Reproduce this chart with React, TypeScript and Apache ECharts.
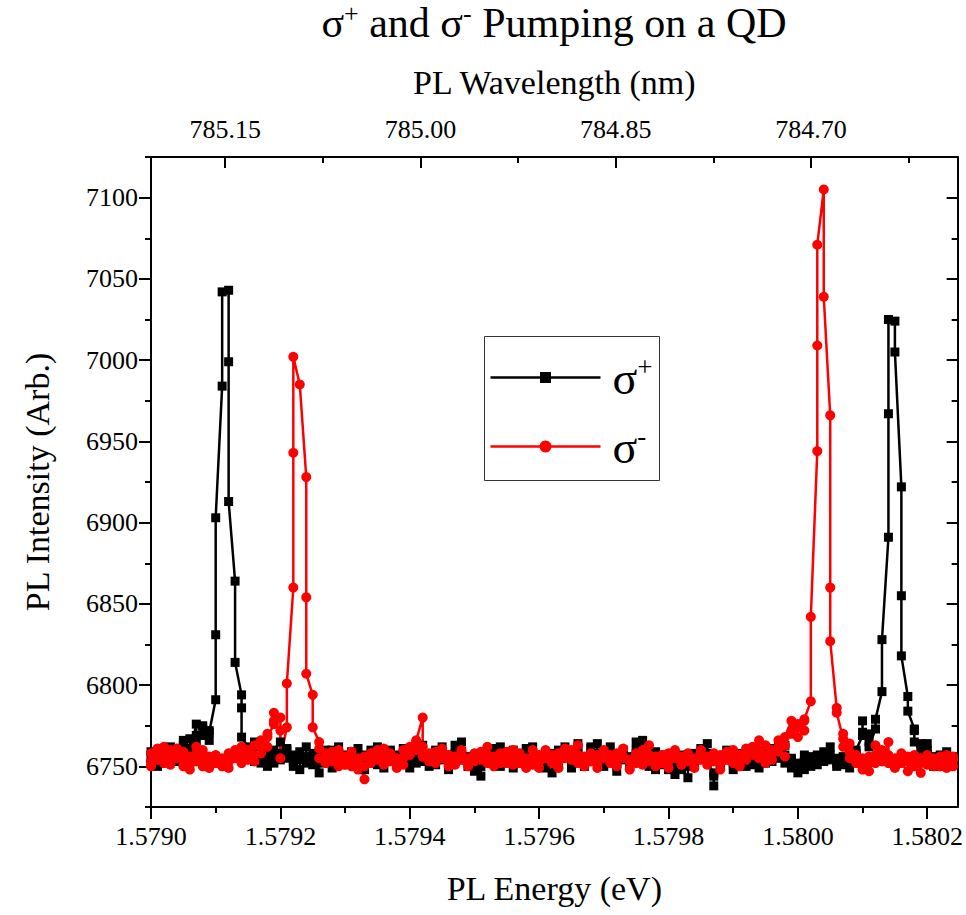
import React, { useEffect, useRef } from "react";
import * as echarts from "echarts";

// Energies are recorded on a 0.00001 eV grid; each column lists the intensities read at that energy.
const energyStart = 1.579;
const energyStep = 0.00001;

const sigmaPlusColumns: number[][] = [
  [6757, 6752, 6759], [6755, 6750, 6754], [6761, 6756, 6752], [6758, 6754, 6762], [6755, 6760, 6753],
  [6763, 6758, 6766], [6767, 6761, 6758], [6776, 6769, 6764], [6775, 6769, 6773], [6772, 6766, 6771],
  [6791, 6831, 6903], [6984, 7042], [7043, 6999, 6913], [6864, 6814], [6794, 6786, 6768],
  [6762, 6756, 6760], [6765, 6758, 6753], [6756, 6761, 6752], [6759, 6754, 6750], [6757, 6752, 6760],
  [6765, 6758, 6754], [6760, 6755, 6761], [6753, 6757, 6750], [6748, 6754, 6759], [6762, 6756, 6752],
  [6758, 6751, 6755], [6746, 6752, 6758], [6755, 6760, 6753], [6760, 6754, 6749], [6753, 6758, 6762],
  [6756, 6751, 6757], [6754, 6759, 6752], [6750, 6756, 6761], [6757, 6753, 6748], [6755, 6760, 6756],
  [6762, 6757, 6751], [6754, 6749, 6756], [6759, 6754, 6760], [6752, 6757, 6753], [6756, 6761, 6755],
  [6749, 6754, 6758], [6757, 6752, 6759], [6763, 6756, 6753], [6755, 6750, 6757], [6760, 6755, 6751],
  [6754, 6759, 6762], [6757, 6752, 6748], [6753, 6758, 6763], [6765, 6759, 6754], [6756, 6750, 6755],
  [6752, 6747, 6753], [6744, 6750, 6756], [6758, 6753, 6760], [6755, 6761, 6757], [6762, 6756, 6750],
  [6754, 6759, 6753], [6749, 6755, 6760], [6757, 6752, 6758], [6761, 6756, 6751], [6753, 6758, 6762],
  [6756, 6750, 6755], [6752, 6757, 6749], [6746, 6753, 6758], [6760, 6755, 6752], [6757, 6762, 6756],
  [6754, 6749, 6755], [6759, 6764, 6758], [6755, 6750, 6756], [6761, 6756, 6762], [6764, 6758, 6752],
  [6750, 6756, 6753], [6757, 6762, 6755], [6753, 6747, 6752], [6758, 6754, 6760], [6755, 6750, 6756],
  [6760, 6765, 6758], [6766, 6759, 6753], [6752, 6757, 6750], [6748, 6754, 6759], [6756, 6751, 6757],
  [6753, 6748, 6754], [6750, 6745, 6752], [6757, 6752, 6748], [6743, 6750, 6755], [6752, 6758, 6754],
  [6759, 6755, 6761], [6764, 6758, 6752], [6746, 6738, 6744], [6750, 6756, 6752], [6755, 6760, 6754],
  [6752, 6748, 6755], [6758, 6753, 6757], [6754, 6750, 6756], [6760, 6755, 6751], [6753, 6749, 6755],
  [6757, 6752, 6758], [6761, 6756, 6753], [6755, 6760, 6764], [6763, 6757, 6752], [6754, 6749, 6755],
  [6750, 6746, 6752], [6748, 6753, 6757], [6752, 6756, 6750], [6755, 6751, 6757], [6759, 6753, 6756],
  [6762, 6757, 6754], [6750, 6755, 6752], [6756, 6751, 6754], [6753, 6749, 6755], [6758, 6754, 6760],
  [6769, 6778, 6771], [6765, 6770, 6762], [6773, 6779], [6796, 6828], [6891, 6967, 7025],
  [7024, 7005], [6922, 6855, 6818], [6793, 6784], [6773, 6772, 6765], [6762, 6757, 6764],
  [6760, 6764, 6758], [6755, 6750, 6756], [6752, 6757, 6753], [6759, 6754, 6757], [6753, 6756, 6751],
];

const sigmaMinusColumns: number[][] = [
  [6753, 6758, 6750], [6756, 6761, 6754], [6752, 6757, 6762], [6760, 6755, 6751], [6757, 6761, 6755],
  [6750, 6754, 6759], [6756, 6751, 6748], [6753, 6758, 6762], [6760, 6755, 6750], [6754, 6749, 6756],
  [6752, 6757, 6753], [6755, 6750, 6754], [6758, 6753, 6749], [6755, 6760, 6756], [6752, 6757, 6762],
  [6758, 6754, 6760], [6763, 6757, 6753], [6762, 6758, 6766], [6770, 6762, 6768], [6776, 6783, 6778],
  [6780, 6772, 6755], [6774, 6801], [6860, 6943, 7002], [6985], [6928, 6854, 6807],
  [6794, 6774], [6765, 6761, 6755], [6758, 6752, 6757], [6754, 6759, 6753], [6750, 6755, 6760],
  [6756, 6751, 6754], [6759, 6754, 6750], [6753, 6748, 6755], [6742, 6750, 6756], [6757, 6752, 6758],
  [6755, 6760, 6754], [6751, 6756, 6761], [6758, 6753, 6757], [6754, 6749, 6755], [6760, 6755, 6751],
  [6757, 6762, 6758], [6765, 6760, 6766], [6780, 6762, 6756], [6753, 6758, 6754], [6757, 6752, 6759],
  [6755, 6761, 6756], [6752, 6757, 6750], [6756, 6751, 6755], [6759, 6754, 6760], [6755, 6750, 6753],
  [6758, 6753, 6757], [6754, 6759, 6755], [6762, 6757, 6752], [6755, 6750, 6756], [6753, 6758, 6752],
  [6757, 6752, 6759], [6760, 6755, 6751], [6756, 6752, 6758], [6754, 6749, 6755], [6751, 6756, 6760],
  [6757, 6753, 6749], [6755, 6760, 6756], [6752, 6757, 6753], [6758, 6753, 6749], [6756, 6761, 6755],
  [6759, 6754, 6760], [6763, 6757, 6752], [6755, 6750, 6756], [6753, 6758, 6754], [6757, 6752, 6749],
  [6755, 6760, 6756], [6752, 6757, 6753], [6758, 6754, 6750], [6756, 6761, 6755], [6753, 6748, 6754],
  [6757, 6752, 6758], [6760, 6755, 6751], [6763, 6757, 6753], [6755, 6750, 6756], [6752, 6757, 6753],
  [6758, 6753, 6749], [6755, 6760, 6756], [6751, 6756, 6752], [6757, 6753, 6758], [6754, 6749, 6755],
  [6758, 6754, 6760], [6756, 6751, 6755], [6753, 6758, 6754], [6757, 6752, 6748], [6754, 6759, 6755],
  [6760, 6756, 6752], [6755, 6750, 6757], [6759, 6754, 6761], [6757, 6762, 6758], [6766, 6760, 6755],
  [6763, 6757, 6752], [6758, 6754, 6760], [6762, 6766, 6759], [6763, 6756, 6768], [6778, 6772, 6770],
  [6774, 6768, 6776], [6778, 6772, 6779], [6790, 6842], [6944, 7009, 7071], [7105, 7039],
  [6966, 6860, 6827], [6786, 6783], [6767, 6762, 6770], [6759, 6764, 6755], [6752, 6757, 6754],
  [6750, 6755, 6748], [6747, 6752, 6756], [6752, 6763, 6757], [6755, 6760, 6753], [6765, 6757, 6752],
  [6750, 6755, 6749], [6754, 6758, 6752], [6747, 6753, 6756], [6757, 6752, 6750], [6746, 6752, 6755],
  [6753, 6757, 6751], [6755, 6750, 6754], [6752, 6756, 6750], [6757, 6753, 6749], [6756, 6750, 6754],
];

const energyTicks = [1.579, 1.5792, 1.5794, 1.5796, 1.5798, 1.58, 1.5802];
const energyMinorTicks = [1.5791, 1.5793, 1.5795, 1.5797, 1.5799, 1.5801];
const wavelengthTicks = [785.15, 785.0, 784.85, 784.7];
const wavelengthMinorTicks = [785.075, 784.925, 784.775, 784.625];
const intensityTicks = [6750, 6800, 6850, 6900, 6950, 7000, 7050, 7100];
const intensityMinorTicks = [6725, 6775, 6825, 6875, 6925, 6975, 7025, 7075, 7125];

const HC = 1239.84193; // eV·nm
const X_MIN = 1.579;
const X_MAX = 1.580247;
const Y_MIN = 6725;
const Y_MAX = 7125;

const FONT = "'Liberation Serif', 'DejaVu Serif', serif";

function toPoints(columns: number[][]): [number, number][] {
  const pts: [number, number][] = [];
  columns.forEach((col, k) => {
    const e = +(energyStart + k * energyStep).toFixed(5);
    col.forEach((v) => pts.push([e, v]));
  });
  return pts;
}

export default function App() {
  const ref = useRef<HTMLDivElement>(null);

  useEffect(() => {
    if (!ref.current) return;
    const chart = echarts.init(ref.current, null, { renderer: "svg" });

    const lineStyle = { color: "#000", width: 2 };
    const wlMajor = wavelengthTicks.map((w) => HC / w);
    const wlMinor = wavelengthMinorTicks.map((w) => HC / w);

    const baseX = {
      type: "value" as const,
      gridIndex: 0,
      min: X_MIN,
      max: X_MAX,
      splitLine: { show: false },
    };
    const baseY = {
      type: "value" as const,
      gridIndex: 0,
      min: Y_MIN,
      max: Y_MAX,
      splitLine: { show: false },
    };

    const labelFont = { fontFamily: FONT, fontSize: 26, color: "#000" };
    const nameFont = { fontFamily: FONT, fontSize: 34, color: "#000" };

    chart.setOption({
      animation: false,
      backgroundColor: "#fff",
      title: {
        text: "{m|σ}{s|+}{m| and σ}{s|-}{m| Pumping on a QD}",
        left: 554,
        top: 0,
        padding: 0,
        textAlign: "center",
        textStyle: {
          fontFamily: FONT,
          fontWeight: "normal",
          color: "#000",
          rich: {
            m: { fontFamily: FONT, fontSize: 42, color: "#000", verticalAlign: "bottom", lineHeight: 44 },
            s: { fontFamily: FONT, fontSize: 26, color: "#000", verticalAlign: "top", lineHeight: 30 },
          },
        },
      },
      grid: { left: 151, top: 157, width: 807, height: 650, containLabel: false },
      xAxis: [
        {
          ...baseX,
          position: "bottom",
          axisLine: { show: true, onZero: false, lineStyle },
          axisTick: { show: true, customValues: energyTicks, length: 12, lineStyle },
          axisLabel: {
            customValues: energyTicks,
            formatter: (v: number) => v.toFixed(4),
            ...labelFont,
            margin: 16,
          },
          name: "PL Energy (eV)",
          nameLocation: "middle",
          nameGap: 64,
          nameTextStyle: nameFont,
        },
        {
          ...baseX,
          position: "bottom",
          axisLine: { show: false, onZero: false },
          axisTick: { show: true, customValues: energyMinorTicks, length: 6, lineStyle },
          axisLabel: { show: false },
        },
        {
          ...baseX,
          position: "top",
          axisLine: { show: true, onZero: false, lineStyle },
          axisTick: { show: true, inside: true, customValues: wlMajor, length: 11, lineStyle },
          axisLabel: {
            customValues: wlMajor,
            formatter: (v: number) => (HC / v).toFixed(2),
            ...labelFont,
            margin: 15,
          },
          name: "PL Wavelength (nm)",
          nameLocation: "middle",
          nameGap: 58,
          nameTextStyle: nameFont,
        },
        {
          ...baseX,
          position: "top",
          axisLine: { show: false, onZero: false },
          axisTick: { show: true, inside: true, customValues: wlMinor, length: 6, lineStyle },
          axisLabel: { show: false },
        },
      ],
      yAxis: [
        {
          ...baseY,
          position: "left",
          axisLine: { show: true, onZero: false, lineStyle },
          axisTick: { show: true, customValues: intensityTicks, length: 12, lineStyle },
          axisLabel: {
            customValues: intensityTicks,
            formatter: (v: number) => String(v),
            ...labelFont,
            margin: 13,
          },
          name: "PL Intensity (Arb.)",
          nameLocation: "middle",
          nameGap: 97,
          nameTextStyle: nameFont,
        },
        {
          ...baseY,
          position: "left",
          axisLine: { show: false, onZero: false },
          axisTick: { show: true, customValues: intensityMinorTicks, length: 6, lineStyle },
          axisLabel: { show: false },
        },
        {
          ...baseY,
          position: "right",
          axisLine: { show: true, onZero: false, lineStyle },
          axisTick: { show: true, inside: true, customValues: intensityTicks, length: 11, lineStyle },
          axisLabel: { show: false },
        },
        {
          ...baseY,
          position: "right",
          axisLine: { show: false, onZero: false },
          axisTick: { show: true, inside: true, customValues: intensityMinorTicks, length: 6, lineStyle },
          axisLabel: { show: false },
        },
      ],
      series: [
        {
          name: "σ+",
          type: "line",
          xAxisIndex: 0,
          yAxisIndex: 0,
          data: toPoints(sigmaPlusColumns),
          symbol: "rect",
          symbolSize: 9,
          showSymbol: true,
          lineStyle: { color: "#000", width: 2.5 },
          itemStyle: { color: "#000" },
          silent: true,
        },
        {
          name: "σ-",
          type: "line",
          xAxisIndex: 0,
          yAxisIndex: 0,
          data: toPoints(sigmaMinusColumns),
          symbol: "circle",
          symbolSize: 10,
          showSymbol: true,
          lineStyle: { color: "#ff0000", width: 2.5 },
          itemStyle: { color: "#ff0000" },
          silent: true,
        },
      ],
      graphic: [
        {
          type: "group",
          left: 484,
          top: 336,
          silent: true,
          children: [
            { type: "rect", shape: { x: 0, y: 0, width: 175, height: 144 }, style: { fill: "#fff", stroke: "#333", lineWidth: 1 } },
            { type: "line", shape: { x1: 6, y1: 41, x2: 116, y2: 41 }, style: { stroke: "#000", lineWidth: 2.5 } },
            { type: "rect", shape: { x: 55.5, y: 35.5, width: 11, height: 11 }, style: { fill: "#000" } },
            { type: "line", shape: { x1: 6, y1: 110, x2: 116, y2: 110 }, style: { stroke: "#ff0000", lineWidth: 2.5 } },
            { type: "circle", shape: { cx: 61, cy: 110, r: 6 }, style: { fill: "#ff0000" } },
            {
              type: "text",
              x: 128,
              y: 41,
              style: {
                text: "{m|σ}{s|+}",
                verticalAlign: "middle",
                rich: {
                  m: { fontFamily: FONT, fontSize: 46, fill: "#000", verticalAlign: "bottom", lineHeight: 48 },
                  s: { fontFamily: FONT, fontSize: 27, fill: "#000", verticalAlign: "top", lineHeight: 48 },
                },
              },
            },
            {
              type: "text",
              x: 128,
              y: 110,
              style: {
                text: "{m|σ}{s|-}",
                verticalAlign: "middle",
                rich: {
                  m: { fontFamily: FONT, fontSize: 46, fill: "#000", verticalAlign: "bottom", lineHeight: 48 },
                  s: { fontFamily: FONT, fontSize: 27, fill: "#000", verticalAlign: "top", lineHeight: 48 },
                },
              },
            },
          ],
        },
      ],
    });

    return () => chart.dispose();
  }, []);

  return (
    <div
      ref={ref}
      style={{ position: "absolute", left: 0, top: 0, width: 966, height: 915, background: "#fff" }}
    />
  );
}
